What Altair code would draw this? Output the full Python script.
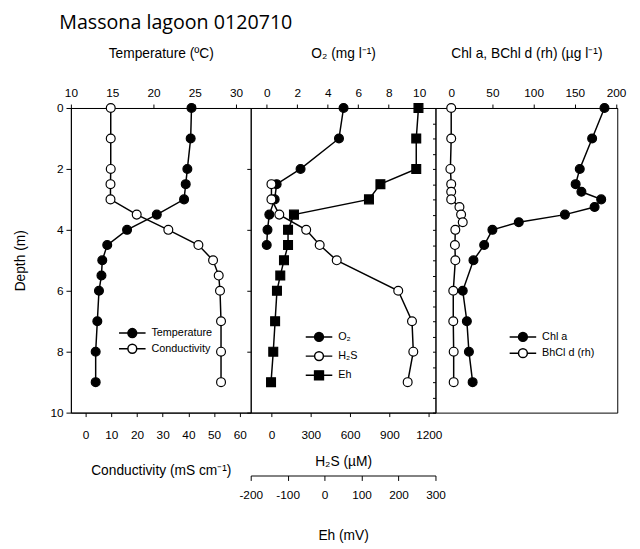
import altair as alt
import pandas as pd

# ---------------- data ----------------
depth_tc = [0, 1, 2, 2.5, 3, 3.5, 4, 4.5, 5, 5.5, 6, 7, 8, 9]
temperature = [24.6, 24.5, 24.1, 23.9, 23.7, 20.4, 16.8, 14.4, 13.8, 13.7, 13.4, 13.2, 13.0, 13.0]
conductivity = [9.8, 9.8, 9.8, 9.7, 9.7, 19.9, 32.2, 43.9, 49.6, 51.8, 52.3, 52.7, 52.7, 52.7]

depth_o2 = [0, 1, 2, 2.5, 3, 3.5, 4, 4.5]
oxygen = [5.04, 4.74, 2.22, 0.65, 0.52, 0.17, 0.05, 0.0]

depth_h2s = [2.5, 3, 3.5, 4, 4.5, 5, 6, 7, 8, 9]
h2s = [0, 0, 60, 265, 368, 498, 967, 1072, 1082, 1039]

depth_eh = [0, 1, 2, 2.5, 3, 3.5, 4, 4.5, 5, 5.5, 6, 7, 8, 9]
eh = [254, 248, 248, 151, 120, -83, -99, -99, -110, -120, -129, -134, -139, -145]

depth_chl = [0, 1, 2, 2.5, 2.75, 3, 3.25, 3.5, 3.75, 4, 4.5, 5, 6, 7, 8, 9]
chl_a = [186, 171, 156, 151, 158, 182, 174, 138, 82, 50, 40, 27, 14, 19, 21.5, 26]
bchl_d = [0, 0, -1, 0, 0, 0, 10, 12, 14, 5, 4.5, 5, 2.5, 2.5, 3, 3]

# tick labels
temp_ticks = [10, 15, 20, 25, 30]
cond_ticks = [0, 10, 20, 30, 40, 50, 60]
o2_ticks = [0, 2, 4, 6, 8, 10]
h2s_ticks = [0, 300, 600, 900, 1200]
eh_ticks = [-200, -100, 0, 100, 200, 300]
chl_ticks = [0, 50, 100, 150, 200]
depth_ticks = [0, 2, 4, 6, 8, 10]
depth_minor = [0, 0.5, 1, 1.5, 2, 2.5, 3, 3.5, 4, 4.5, 5, 5.5, 6, 6.5, 7, 7.5, 8, 8.5, 9, 9.5, 10]

names1 = ["Temperature", "Conductivity"]
names2 = ["O\u2082", "H\u2082S", "Eh"]
names3 = ["Chl a", "BhCl d (rh)"]

# ---------------- styling ----------------
FONT = "Liberation Sans"
CIRC = "M-3,0L-1,0M1,0L3,0M1,0A1,1,0,1,1,-1,0A1,1,0,1,1,1,0Z"
SQR = "M-3,0L-1,0M1,0L3,0M-1,-1L1,-1L1,1L-1,1Z"
LBL = "'' + datum.value"

yscale = alt.Scale(domain=[0, 10], reverse=True, nice=False, zero=False)
depth_axis = alt.Axis(values=depth_ticks, title="Depth (m)", orient="left", labelExpr=LBL,
                      tickSize=5, labelPadding=3, titlePadding=23)
edge_axis2 = alt.Axis(values=depth_ticks, title=None, orient="left", labels=False,
                      tickSize=4, domain=False)
edge_axis3 = alt.Axis(values=depth_minor, title=None, orient="left", labels=False,
                      tickSize=3, domain=False)


def ax(values, title, orient, offset=0, title_pad=10, label_pad=5, tick=4):
    return alt.Axis(values=values, title=title, orient=orient, offset=offset, labelExpr=LBL,
                    titlePadding=title_pad, labelPadding=label_pad, tickSize=tick)


def series(df, field, domain, axis, fill, shape, yaxis):
    return alt.Chart(df).mark_line(
        color="black", strokeWidth=1.5,
        point=alt.OverlayMarkDef(shape=shape, filled=True, fill=fill, stroke="black",
                                 strokeWidth=1.2, size=81, opacity=1)
    ).encode(
        x=alt.X(f"{field}:Q", scale=alt.Scale(domain=domain, nice=False, zero=False), axis=axis),
        y=alt.Y("depth:Q", scale=yscale, axis=yaxis),
        order=alt.Order("depth:Q"),
    )


def legend_layer(names, fills, shapes, lx, ly, rowpad):
    leg = alt.Legend(orient="none", legendX=lx, legendY=ly, title=None,
                     labelFont=FONT, labelFontSize=11, labelColor="black",
                     symbolSize=81, symbolStrokeWidth=1.5,
                     rowPadding=rowpad, labelOffset=14, padding=0)
    df = pd.DataFrame({"series": names})
    return alt.Chart(df).transform_filter("false").mark_point(
        filled=True, size=81, opacity=1, strokeWidth=1.5
    ).encode(
        fill=alt.Fill("series:N", scale=alt.Scale(domain=names, range=fills), legend=leg),
        stroke=alt.Stroke("series:N", scale=alt.Scale(domain=names, range=["black"] * len(names)),
                          legend=leg),
        shape=alt.Shape("series:N", scale=alt.Scale(domain=names, range=shapes), legend=leg),
    )


df1 = pd.DataFrame({"depth": depth_tc, "temp": temperature, "cond": conductivity})
df_o2 = pd.DataFrame({"depth": depth_o2, "o2": oxygen})
df_h2s = pd.DataFrame({"depth": depth_h2s, "h2s": h2s})
df_eh = pd.DataFrame({"depth": depth_eh, "eh": eh})
df3 = pd.DataFrame({"depth": depth_chl, "chl": chl_a, "bchl": bchl_d})

W1, W2, W3, H = 183, 188, 185, 310
RES = dict(x="independent", fill="independent", shape="independent", stroke="independent")
CHL_TITLE = "Chl a, BChl d (rh) (\u00b5g l\u207b\u00b9)"
TOP_PAD = 26

panel1 = alt.layer(
    series(df1, "temp", [10, 31.77], ax(temp_ticks, "Temperature (\u00baC)", "top", title_pad=TOP_PAD),
           "black", "circle", depth_axis),
    series(df1, "cond", [-5.7, 64.25], ax(cond_ticks, "Conductivity (mS cm\u207b\u00b9)", "bottom",
                                          title_pad=24, label_pad=13),
           "white", "circle", depth_axis),
    legend_layer(names1, ["black", "white"], [CIRC, CIRC], 57, 223.5, 1),
).resolve_scale(**RES).properties(width=W1, height=H)

panel2 = alt.layer(
    series(df_o2, "o2", [-1.05, 11.07], ax(o2_ticks, "O\u2082 (mg l\u207b\u00b9)", "top", title_pad=TOP_PAD),
           "black", "circle", edge_axis2),
    series(df_h2s, "h2s", [-158, 1251], ax(h2s_ticks, "H\u2082S (\u00b5M)", "bottom",
                                           title_pad=15, label_pad=13),
           "white", "circle", edge_axis2),
    series(df_eh, "eh", [-200, 300], ax(eh_ticks, "Eh (mV)", "bottom", offset=64,
                                        title_pad=29, label_pad=9, tick=5),
           "black", "square", edge_axis2),
    legend_layer(names2, ["black", "white", "black"], [CIRC, CIRC, SQR], 64, 227.5, 4.5),
).resolve_scale(**RES).properties(width=W2, height=H)

panel3 = alt.layer(
    series(df3, "chl", [-19.1, 201.5], ax(chl_ticks, CHL_TITLE, "top", title_pad=TOP_PAD),
           "black", "circle", edge_axis3),
    series(df3, "bchl", [-19.1, 201.5], ax(chl_ticks, CHL_TITLE, "top", title_pad=TOP_PAD),
           "white", "circle", edge_axis3),
    legend_layer(names3, ["black", "white"], [CIRC, CIRC], 83.5, 227.5, 1.5),
).resolve_scale(fill="independent", shape="independent", stroke="independent").properties(width=W3, height=H)

chart = alt.hconcat(panel1, panel2, panel3, spacing=0, bounds="flush").resolve_scale(
    x="independent", y="independent", fill="independent", shape="independent", stroke="independent"
).resolve_legend(fill="independent", shape="independent", stroke="independent").properties(
    title=alt.TitleParams("Massona lagoon 0120710", anchor="start", font="Open Sans",
                          fontSize=20, fontWeight="normal", color="black", dx=47, offset=14),
    padding={"left": 5, "top": 0, "right": 5, "bottom": 0},
    background="white",
).configure_view(stroke="black", strokeWidth=1).configure_axis(
    domainColor="black", tickColor="black", labelColor="black", titleColor="black",
    labelFont=FONT, labelFontSize=12, titleFont=FONT, titleFontSize=14, titleFontWeight="normal",
    grid=False, labelFlush=False, labelOverlap=False, domainWidth=1, tickWidth=1,
)

chart.save("out.html", embed_options={"renderer": "svg", "actions": False})
